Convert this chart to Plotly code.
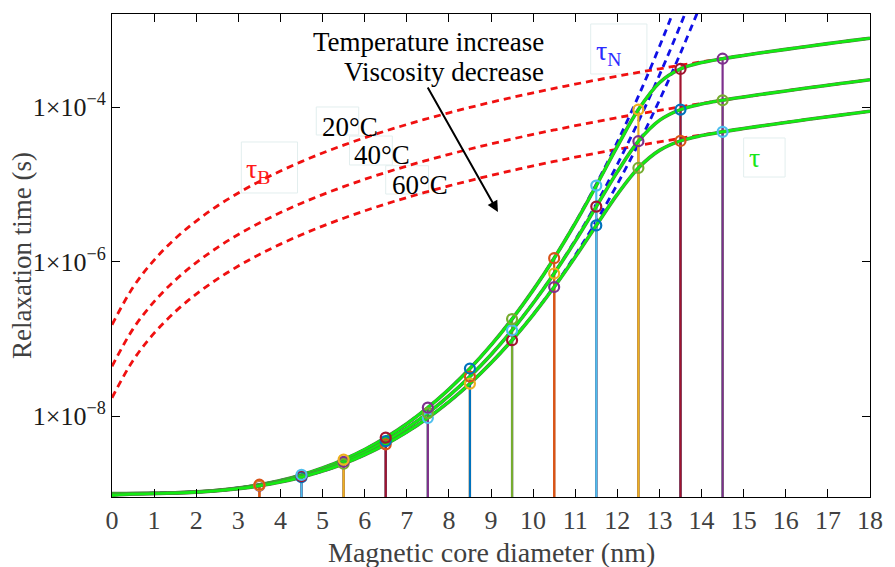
import plotly.graph_objects as go

# ---------------- data ----------------
diam = [0.0, 0.5, 1.0, 1.5, 2.0, 2.5, 3.0, 3.5, 4.0, 4.5, 5.0, 5.5, 6.0, 6.5, 7.0, 7.5, 8.0, 8.5, 9.0,
        9.5, 10.0, 10.5, 11.0, 11.5, 12.0, 12.5, 13.0, 13.5, 14.0, 14.5, 15.0, 15.5, 16.0, 16.5, 17.0,
        17.5, 18.0]
diam_N = diam[:29]  # 0 .. 14 nm

# Brownian relaxation time (red dashed)
tau_B_20 = [1.524e-7, 4.649e-7, 1.046e-6, 1.981e-6, 3.351e-6, 5.241e-6, 7.734e-6, 1.091e-5, 1.486e-5,
            1.967e-5, 2.541e-5, 3.217e-5, 4.004e-5, 4.909e-5, 5.942e-5, 7.110e-5, 8.422e-5, 9.887e-5,
            1.151e-4, 1.331e-4, 1.528e-4, 1.743e-4, 1.978e-4, 2.234e-4, 2.510e-4, 2.808e-4, 3.129e-4,
            3.474e-4, 3.843e-4, 4.237e-4, 4.658e-4, 5.105e-4, 5.580e-4, 6.084e-4, 6.617e-4, 7.180e-4,
            7.774e-4]
tau_B_40 = [4.416e-8, 1.348e-7, 3.033e-7, 5.741e-7, 9.713e-7, 1.519e-6, 2.242e-6, 3.164e-6, 4.308e-6,
            5.701e-6, 7.365e-6, 9.325e-6, 1.161e-5, 1.423e-5, 1.722e-5, 2.061e-5, 2.441e-5, 2.866e-5,
            3.337e-5, 3.857e-5, 4.428e-5, 5.053e-5, 5.735e-5, 6.475e-5, 7.276e-5, 8.140e-5, 9.071e-5,
            1.007e-4, 1.114e-4, 1.228e-4, 1.350e-4, 1.480e-4, 1.617e-4, 1.763e-4, 1.918e-4, 2.081e-4,
            2.253e-4]
tau_B_60 = [1.726e-8, 5.267e-8, 1.185e-7, 2.244e-7, 3.796e-7, 5.937e-7, 8.762e-7, 1.236e-6, 1.684e-6,
            2.228e-6, 2.879e-6, 3.645e-6, 4.536e-6, 5.562e-6, 6.732e-6, 8.055e-6, 9.541e-6, 1.120e-5,
            1.304e-5, 1.507e-5, 1.731e-5, 1.975e-5, 2.241e-5, 2.531e-5, 2.844e-5, 3.181e-5, 3.545e-5,
            3.936e-5, 4.354e-5, 4.800e-5, 5.276e-5, 5.783e-5, 6.321e-5, 6.892e-5, 7.496e-5, 8.134e-5,
            8.807e-5]

# Neel relaxation time (blue dashed), 0 .. 14 nm
tau_N_20 = [1.000e-9, 1.001e-9, 1.006e-9, 1.021e-9, 1.050e-9, 1.099e-9, 1.178e-9, 1.297e-9, 1.474e-9,
            1.737e-9, 2.133e-9, 2.741e-9, 3.702e-9, 5.283e-9, 7.994e-9, 1.290e-8, 2.227e-8, 4.134e-8,
            8.293e-8, 1.806e-7, 4.285e-7, 1.114e-6, 3.186e-6, 1.007e-5, 3.533e-5, 1.382e-4, 6.061e-4,
            2.991e-3, 1.668e-2]
tau_N_40 = [1.000e-9, 1.001e-9, 1.006e-9, 1.019e-9, 1.046e-9, 1.093e-9, 1.166e-9, 1.275e-9, 1.438e-9,
            1.677e-9, 2.032e-9, 2.570e-9, 3.406e-9, 4.750e-9, 7.000e-9, 1.095e-8, 1.826e-8, 3.260e-8,
            6.255e-8, 1.296e-7, 2.911e-7, 7.118e-7, 1.904e-6, 5.590e-6, 1.810e-5, 6.494e-5, 2.591e-4,
            1.154e-3, 5.770e-3]
tau_N_60 = [1.000e-9, 1.001e-9, 1.005e-9, 1.018e-9, 1.044e-9, 1.087e-9, 1.155e-9, 1.257e-9, 1.407e-9,
            1.626e-9, 1.948e-9, 2.428e-9, 3.165e-9, 4.325e-9, 6.230e-9, 9.486e-9, 1.534e-8, 2.644e-8,
            4.880e-8, 9.676e-8, 2.070e-7, 4.799e-7, 1.210e-6, 3.330e-6, 1.005e-5, 3.338e-5, 1.225e-4,
            4.993e-4, 2.265e-3]

# Effective relaxation time (green solid)
tau_20 = [9.935e-10, 9.989e-10, 1.005e-9, 1.020e-9, 1.050e-9, 1.099e-9, 1.178e-9, 1.297e-9, 1.474e-9,
          1.737e-9, 2.133e-9, 2.741e-9, 3.702e-9, 5.282e-9, 7.992e-9, 1.290e-8, 2.226e-8, 4.132e-8,
          8.287e-8, 1.804e-7, 4.273e-7, 1.107e-6, 3.135e-6, 9.636e-6, 3.097e-5, 9.262e-5, 2.064e-4,
          3.113e-4, 3.757e-4, 4.220e-4, 4.655e-4, 5.105e-4, 5.580e-4, 6.084e-4, 6.617e-4, 7.180e-4,
          7.774e-4]
tau_40 = [9.779e-10, 9.936e-10, 1.003e-9, 1.017e-9, 1.045e-9, 1.092e-9, 1.166e-9, 1.275e-9, 1.438e-9,
          1.677e-9, 2.032e-9, 2.569e-9, 3.405e-9, 4.748e-9, 6.997e-9, 1.095e-8, 1.825e-8, 3.256e-8,
          6.243e-8, 1.292e-7, 2.892e-7, 7.019e-7, 1.843e-6, 5.146e-6, 1.449e-5, 3.612e-5, 6.719e-5,
          9.262e-5, 1.093e-4, 1.223e-4, 1.349e-4, 1.480e-4, 1.617e-4, 1.763e-4, 1.918e-4, 2.081e-4,
          2.253e-4]
tau_60 = [9.452e-10, 9.823e-10, 9.966e-10, 1.013e-9, 1.041e-9, 1.085e-9, 1.154e-9, 1.256e-9, 1.406e-9,
          1.625e-9, 1.947e-9, 2.426e-9, 3.163e-9, 4.322e-9, 6.224e-9, 9.475e-9, 1.532e-8, 2.638e-8,
          4.862e-8, 9.614e-8, 2.046e-7, 4.685e-7, 1.148e-6, 2.943e-6, 7.426e-6, 1.629e-5, 2.749e-5,
          3.648e-5, 4.272e-5, 4.780e-5, 5.272e-5, 5.782e-5, 6.321e-5, 6.892e-5, 7.496e-5, 8.134e-5,
          8.807e-5]

# stem positions
stem_x = [3.5, 4.5, 5.5, 6.5, 7.5, 8.5, 9.5, 10.5, 11.5, 12.5, 13.5, 14.5]
stem_base = 1e-10

# tick labels
x_ticks = [0, 1, 2, 3, 4, 5, 6, 7, 8, 9, 10, 11, 12, 13, 14, 15, 16, 17, 18]
y_ticks = [1e-8, 1e-6, 1e-4]
y_ticktext = ["1×10<sup>−8</sup>", "1×10<sup>−6</sup>", "1×10<sup>−4</sup>"]

# ---------------- styles ----------------
PAL = ['#0072BD', '#D95319', '#EDB120', '#7E2F8E', '#77AC30', '#4DBEEE', '#A2142F']
# marker colour index per stem (20 C, 40 C, 60 C)
stem_cols_20 = [1, 5, 2, 6, 3, 0, 4, 1, 5, 2, 6, 3]
stem_cols_40 = [2, 6, 3, 0, 4, 1, 5, 2, 6, 3, 0, 4]
stem_cols_60 = [3, 0, 4, 1, 5, 2, 6, 3, 0, 4, 1, 5]

RED = '#f01010'
BLUE = '#1010e6'
GREEN = '#12ec12'
FONT = 'Liberation Serif, Times New Roman, serif'

fig = go.Figure()

# red dashed (Brownian)
for tb in (tau_B_20, tau_B_40, tau_B_60):
    fig.add_trace(go.Scatter(x=diam, y=tb, mode='lines', line=dict(color=RED, width=2.8, dash='7px,5px', shape='spline'),
                             hoverinfo='skip'))
# blue dashed (Neel)
for tn in (tau_N_20, tau_N_40, tau_N_60):
    fig.add_trace(go.Scatter(x=diam_N, y=tn, mode='lines', line=dict(color=BLUE, width=2.8, dash='7px,5px', shape='spline'),
                             hoverinfo='skip'))

# stems
lookup = {
    20: dict(zip(diam, tau_20)),
    40: dict(zip(diam, tau_40)),
    60: dict(zip(diam, tau_60)),
}
cols = {20: stem_cols_20, 40: stem_cols_40, 60: stem_cols_60}
for T in (60, 40, 20):
    for i, sx in enumerate(stem_x):
        fig.add_trace(go.Scatter(x=[sx, sx], y=[stem_base, lookup[T][sx]], mode='lines',
                                 line=dict(color=PAL[cols[T][i]], width=2.2), hoverinfo='skip'))

# green effective curves (dark edge + bright green)
for tt in (tau_20, tau_40, tau_60):
    fig.add_trace(go.Scatter(x=diam, y=tt, mode='lines', line=dict(color='#557a45', width=3.6, shape='spline'),
                             hoverinfo='skip'))
    fig.add_trace(go.Scatter(x=diam, y=tt, mode='lines', line=dict(color=GREEN, width=2.6, shape='spline'),
                             hoverinfo='skip'))

# stem markers
for T in (60, 40, 20):
    fig.add_trace(go.Scatter(x=stem_x, y=[lookup[T][sx] for sx in stem_x], mode='markers',
                             marker=dict(symbol='circle-open', size=10, color=[PAL[c] for c in cols[T]],
                                         line=dict(width=2.2)),
                             cliponaxis=False, hoverinfo='skip'))

# ---------------- annotations ----------------
ann = []
def txt(x, y, s, size=27, color='black', xanchor='center', angle=0):
    ann.append(dict(x=x, y=y, xref='paper', yref='paper', text=s, showarrow=False, textangle=angle,
                    font=dict(family=FONT, size=size, color=color), xanchor=xanchor, yanchor='middle'))

txt(0.5730, 0.9420, 'Temperature increase', xanchor='right')
txt(0.5730, 0.8799, 'Viscosity decrease', xanchor='right')
txt(0.3135, 0.7660, '20°C')
txt(0.3565, 0.7081, '40°C')
txt(0.4059, 0.6460, '60°C')
txt(0.1927, 0.6770, 'τ<sub>B</sub>', size=28, color='#ff1a1a')
txt(0.6549, 0.9213, 'τ<sub>N</sub>', size=28, color='#2b2bff')
txt(0.8477, 0.7039, 'τ', size=28, color='#19e619')

# axis titles
txt(0.5, -0.1159, 'Magnetic core diameter (nm)', size=28, color='#404040')
txt(-0.1195, 0.5, 'Relaxation time (s)', size=27, color='#404040', angle=-90)

ann.append(dict(x=0.5091, y=0.5901, xref='paper', yref='paper', ax=-71, ay=-126, text='',
                showarrow=True, arrowhead=2, arrowsize=1.1, arrowwidth=2, arrowcolor='black'))

shapes = []
for (x0, x1, y0, y1) in [(0.2695, 0.3255, 0.7495, 0.8075), (0.3134, 0.3698, 0.6874, 0.7474),
                         (0.3611, 0.4176, 0.6273, 0.6859), (0.1706, 0.2448, 0.6294, 0.7350),
                         (0.6315, 0.7057, 0.8758, 0.9793), (0.8333, 0.8880, 0.6625, 0.7433)]:
    shapes.append(dict(type='rect', xref='paper', yref='paper', x0=x0, x1=x1, y0=y0, y1=y1,
                       line=dict(color='#e2eeee', width=1), layer='below'))

fig.update_layout(
    width=895, height=567,
    margin=dict(l=112, r=15, t=14, b=70),
    paper_bgcolor='white', plot_bgcolor='white',
    showlegend=False,
    font=dict(family=FONT),
    annotations=ann, shapes=shapes,
    xaxis=dict(range=[0, 18], tickvals=x_ticks, ticks='inside', ticklen=8, tickwidth=1, tickcolor='black',
               showline=True, linecolor='black', linewidth=1, mirror='ticks', showgrid=False, zeroline=False,
               tickfont=dict(family=FONT, size=26, color='#404040')),
    yaxis=dict(type='log', range=[-9.046, -2.796], tickvals=y_ticks, ticktext=y_ticktext,
               ticks='inside', ticklen=8, tickwidth=1, tickcolor='black',
               showline=True, linecolor='black', linewidth=1, mirror='ticks', showgrid=False, zeroline=False,
               tickfont=dict(family=FONT, size=26, color='#1a1a1a')),
)

fig.write_html('out.html')
